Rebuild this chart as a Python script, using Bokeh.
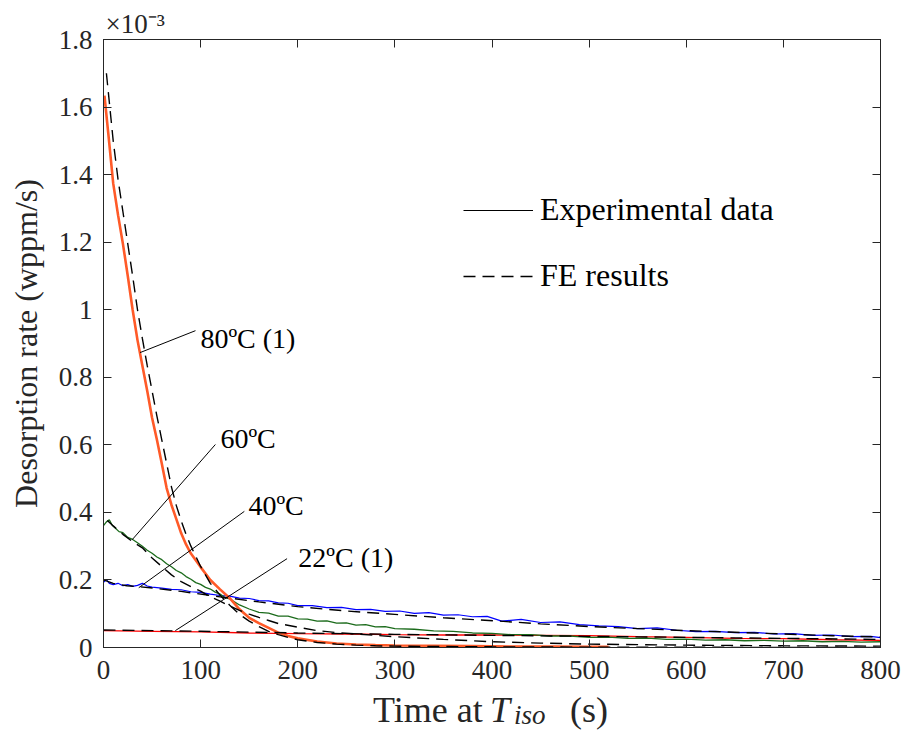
import numpy as np
from bokeh.plotting import figure
from bokeh.layouts import column
from bokeh.models import (Range1d, LinearAxis, FixedTicker, CustomJSTickFormatter,
                          Label, Legend, LegendItem, Div)
from bokeh.embed import file_html
from bokeh.resources import INLINE

# ---------------- data (desorption rate in units of 1e-3 wppm/s) ----------------
t80_exp = [1, 5, 10, 15, 20, 25, 30, 35, 40, 45, 50, 55, 60, 65, 70, 75, 80, 85, 90, 95,
           100, 110, 120, 130, 140, 150, 160, 170, 180, 190, 200, 220, 240, 260, 280, 300,
           340, 380, 420, 460, 500, 520]
v80_exp = [1.634, 1.52, 1.374, 1.28, 1.195, 1.10, 1.00, 0.91, 0.835, 0.76, 0.68, 0.615,
           0.545, 0.472, 0.422, 0.38, 0.338, 0.305, 0.278, 0.258, 0.238, 0.200, 0.172,
           0.146, 0.113, 0.088, 0.072, 0.058, 0.044, 0.034, 0.027, 0.018, 0.012, 0.009,
           0.007, 0.006, 0.005, 0.004, 0.003, 0.003, 0.002, 0.002]

t80_fe = [3, 10, 15, 20, 25, 30, 35, 40, 45, 50, 55, 60, 65, 70, 75, 80, 85, 90, 95, 100,
          110, 120, 130, 140, 150, 160, 170, 180, 190, 200, 220, 240, 260, 280, 300, 350,
          400, 500, 600, 700, 800]
v80_fe = [1.70, 1.50, 1.385, 1.29, 1.195, 1.10, 1.00, 0.915, 0.835, 0.76, 0.685, 0.615,
          0.545, 0.475, 0.42, 0.375, 0.335, 0.30, 0.27, 0.24, 0.19, 0.155, 0.125, 0.098,
          0.078, 0.062, 0.048, 0.038, 0.030, 0.023, 0.015, 0.010, 0.007, 0.005, 0.004,
          0.003, 0.002, 0.001, 0.0006, 0.0004, 0.0003]

t60_exp = [0, 3, 6, 9, 12, 16, 20, 25, 30, 35, 40, 45, 50, 55, 60, 65, 70, 75, 80, 85, 90,
           95, 100, 105, 110, 115, 120, 125, 130, 140, 150, 160, 170, 180, 190, 200, 210,
           220, 230, 240, 250, 260, 270, 280, 290, 300, 320, 340, 360, 380, 400, 420, 440,
           460, 480, 500, 520, 540, 560, 580, 600, 620, 640, 660, 680, 700, 720, 740, 760,
           780, 800]
v60_exp = [0.361, 0.372, 0.378, 0.362, 0.354, 0.343, 0.340, 0.326, 0.320, 0.310, 0.300,
           0.288, 0.279, 0.268, 0.260, 0.248, 0.239, 0.228, 0.221, 0.210, 0.202, 0.192,
           0.187, 0.178, 0.173, 0.164, 0.158, 0.148, 0.144, 0.126, 0.114, 0.104, 0.102,
           0.093, 0.093, 0.085, 0.084, 0.078, 0.079, 0.072, 0.073, 0.066, 0.068, 0.061,
           0.062, 0.056, 0.054, 0.049, 0.048, 0.043, 0.042, 0.038, 0.038, 0.034, 0.034,
           0.030, 0.031, 0.027, 0.028, 0.024, 0.025, 0.022, 0.023, 0.020, 0.021, 0.019,
           0.020, 0.017, 0.018, 0.016, 0.017]

t60_fe = [4, 10, 20, 30, 40, 50, 60, 70, 80, 90, 100, 110, 120, 130, 140, 150, 160, 170,
          180, 200, 220, 240, 260, 280, 300, 350, 400, 450, 500, 600, 700, 800]
v60_fe = [0.376, 0.360, 0.335, 0.313, 0.295, 0.265, 0.240, 0.215, 0.195, 0.180, 0.167,
          0.150, 0.137, 0.123, 0.110, 0.099, 0.089, 0.080, 0.071, 0.060, 0.050, 0.044,
          0.040, 0.036, 0.032, 0.024, 0.017, 0.013, 0.010, 0.007, 0.005, 0.004]

t40_exp = [0, 3, 6, 10, 15, 20, 25, 30, 35, 40, 45, 50, 60, 70, 80, 90, 100, 110, 120,
           130, 140, 150, 160, 170, 180, 190, 200, 215, 230, 245, 260, 275, 290, 305, 320,
           335, 350, 365, 380, 395, 410, 430, 450, 470, 490, 510, 530, 550, 570, 590, 610,
           630, 650, 670, 690, 710, 730, 750, 770, 790, 800]
v40_exp = [0.193, 0.201, 0.190, 0.186, 0.190, 0.183, 0.186, 0.181, 0.184, 0.190, 0.182,
           0.179, 0.176, 0.172, 0.171, 0.165, 0.163, 0.158, 0.154, 0.152, 0.146, 0.145,
           0.139, 0.138, 0.132, 0.131, 0.124, 0.124, 0.118, 0.119, 0.112, 0.113, 0.107,
           0.108, 0.101, 0.103, 0.096, 0.097, 0.091, 0.092, 0.078, 0.083, 0.074, 0.076,
           0.068, 0.064, 0.062, 0.056, 0.058, 0.051, 0.047, 0.048, 0.044, 0.045, 0.040,
           0.041, 0.036, 0.037, 0.032, 0.033, 0.029]

t40_fe = [0, 10, 24, 48, 80, 120, 160, 200, 250, 300, 350, 408, 450, 500, 550, 600, 650,
          700, 750, 800]
v40_fe = [0.200, 0.190, 0.183, 0.177, 0.166, 0.150, 0.135, 0.121, 0.108, 0.098, 0.088,
          0.078, 0.070, 0.062, 0.056, 0.050, 0.045, 0.040, 0.035, 0.031]

t22_exp = [0, 50, 100, 150, 200, 250, 300, 350, 400, 450, 500, 550, 600, 650, 700, 750, 800]
v22_exp = [0.050, 0.048, 0.046, 0.043, 0.041, 0.040, 0.038, 0.037, 0.037, 0.036, 0.035,
           0.032, 0.030, 0.027, 0.026, 0.023, 0.021]

t22_fe = [0, 100, 200, 300, 400, 500, 600, 700, 800]
v22_fe = [0.052, 0.048, 0.043, 0.039, 0.036, 0.033, 0.030, 0.027, 0.024]

# annotations: text, anchor of text and leader lines
ann_text = ["80ºC (1)", "60ºC", "40ºC", "22ºC (1)"]
ann_tx = [99.8, 120.4, 149.2, 200.6]
ann_ty = [0.915, 0.619, 0.420, 0.266]
ann_x0 = [37.6, 29.5, 36.3, 74.0]
ann_y0 = [0.873, 0.319, 0.177, 0.050]
ann_x1 = [94.7, 115.2, 145.0, 189.0]
ann_y1 = [0.938, 0.601, 0.403, 0.263]

x_ticks = [0, 100, 200, 300, 400, 500, 600, 700, 800]
y_ticks = [0, 0.2, 0.4, 0.6, 0.8, 1.0, 1.2, 1.4, 1.6, 1.8]

# ---------------- figure ----------------
FONT = "Liberation Serif, Times New Roman, serif"
AX = "#262626"

p = figure(width=905, height=686, x_range=Range1d(0, 800), y_range=Range1d(0, 1.8),
           output_backend="svg", toolbar_location=None,
           min_border_left=103, min_border_right=25, min_border_top=39, min_border_bottom=39)
p.xgrid.visible = False
p.ygrid.visible = False
p.outline_line_color = AX
p.outline_line_width = 1
p.background_fill_color = "white"
p.border_fill_color = "white"

# multiplier shown as a title at the top-left of the axes box
p.title.text = "×10⁻³"
p.title.align = "left"
p.title.offset = 2
p.title.standoff = 2
p.title.text_font = FONT
p.title.text_font_size = "27px"
p.title.text_font_style = "normal"
p.title.text_color = AX


def style_axis(ax, show_labels=True):
    ax.axis_line_color = AX
    ax.axis_line_width = 1
    ax.major_tick_line_color = AX
    ax.major_tick_in = 8
    ax.major_tick_out = 0
    ax.minor_tick_line_color = None
    ax.major_label_text_font = FONT
    if show_labels:
        ax.major_label_text_font_size = "27px"
        ax.major_label_text_color = AX
    else:
        ax.major_label_text_font_size = "1px"
        ax.major_label_text_color = None
        ax.major_label_standoff = 0


xa = p.xaxis[0]
ya = p.yaxis[0]
xa.ticker = FixedTicker(ticks=x_ticks)
ya.ticker = FixedTicker(ticks=y_ticks)
ya.formatter = CustomJSTickFormatter(code="return tick.toFixed(1).replace(/\\.0$/, '');")
style_axis(xa)
style_axis(ya)
xa.major_label_standoff = 13
ya.major_label_standoff = 11
ya.axis_label = "Desorption rate (wppm/s)"
ya.axis_label_text_font = FONT
ya.axis_label_text_font_size = "32px"
ya.axis_label_text_font_style = "normal"
ya.axis_label_text_color = AX
ya.axis_label_standoff = 12

ra = LinearAxis(ticker=FixedTicker(ticks=y_ticks))
ta = LinearAxis(ticker=FixedTicker(ticks=x_ticks))
style_axis(ra, False)
style_axis(ta, False)
p.add_layout(ra, "right")
p.add_layout(ta, "above")

# ---------------- curves ----------------
FE_DASH = "12 7"
FE_W = 1.4
p.line(t22_exp, v22_exp, color="#ff0000", line_width=1.3)
p.line(t40_exp, v40_exp, color="#0000ff", line_width=1.2)
p.line(t60_exp, v60_exp, color="#1b6b1b", line_width=1.3)
p.line(t80_exp, v80_exp, color="#ff5a28", line_width=2.6)
p.line(t22_fe, v22_fe, color="black", line_width=FE_W, line_dash=FE_DASH)
p.line(t40_fe, v40_fe, color="black", line_width=FE_W, line_dash=FE_DASH)
p.line(t60_fe, v60_fe, color="black", line_width=FE_W, line_dash=FE_DASH)
r80_fe = p.line(t80_fe, v80_fe, color="black", line_width=FE_W, line_dash=FE_DASH)

# leader lines and annotation texts
p.segment(x0=ann_x0, y0=ann_y0, x1=ann_x1, y1=ann_y1, color="black", line_width=1)
for txt, tx, ty in zip(ann_text, ann_tx, ann_ty):
    p.add_layout(Label(x=tx, y=ty, text=txt, text_font=FONT, text_font_size="28px",
                       text_color="black", text_baseline="alphabetic", text_align="left"))

# legend: black solid sample (hidden renderer) and black dashed FE sample
r_leg_exp = p.line(t22_exp, v22_exp, color="black", line_width=1.2, visible=False)
legend = Legend(items=[LegendItem(label="Experimental data", renderers=[r_leg_exp]),
                       LegendItem(label="FE results", renderers=[r80_fe])],
                location=(360, 353), glyph_width=70, glyph_height=30, label_height=30,
                label_standoff=7, spacing=29, padding=0, margin=0,
                border_line_color=None, background_fill_alpha=0, inactive_fill_alpha=0,
                label_text_font=FONT, label_text_font_size="32px", label_text_color="black")
p.add_layout(legend, "center")

# x axis label (italic T with subscript iso) below the plot
xlab_html = (
    '<div style="position:relative;width:905px;height:50px;'
    'font-family:\'Liberation Serif\',serif;font-size:36px;line-height:36px;color:#262626;">'
    '<span style="position:absolute;left:373px;top:6px;">Time at</span>'
    '<span style="position:absolute;left:490px;top:6px;font-style:italic;">T</span>'
    '<span style="position:absolute;left:514px;top:16px;font-size:27px;line-height:27px;'
    'font-style:italic;">iso</span>'
    '<span style="position:absolute;left:570px;top:6px;">(s)</span>'
    '</div>'
)
xlab = Div(text=xlab_html, width=905, height=50, margin=0)

layout = column(p, xlab, spacing=0)
open("out.html", "w").write(file_html(layout, INLINE))
